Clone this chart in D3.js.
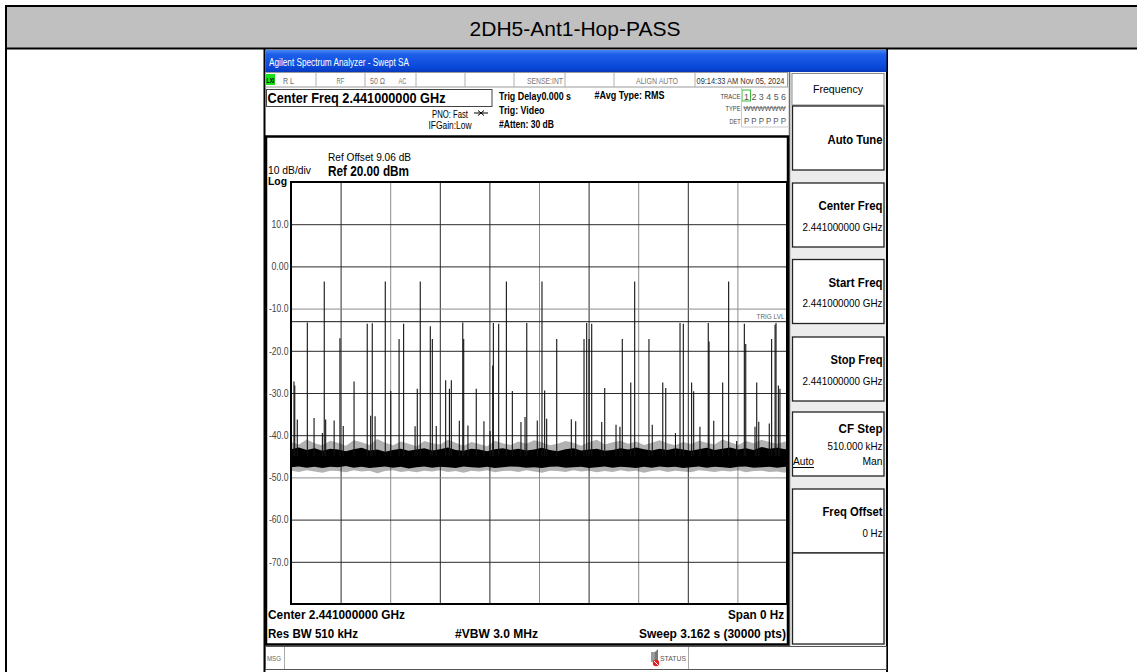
<!DOCTYPE html>
<html><head><meta charset="utf-8">
<script src="https://cdn.jsdelivr.net/npm/d3@7"></script>
<style>
html,body{margin:0;padding:0;background:#fff;}
svg{display:block;font-family:"Liberation Sans",Arial,Helvetica,sans-serif;}
</style></head><body>
<svg id="c" width="1137" height="672"></svg>
<script>
// ---------------- DATA ----------------
const pageTitle = "2DH5-Ant1-Hop-PASS";
const refLevel = 20;          // dBm (top of graticule)
const dbPerDiv = 10;
const yDivisions = 10;
const xDivisions = 10;
const sweepTimeMs = 3162;     // 3.162 s, zero span
const trigLevel = -13.1;      // dBm, TRIG LVL line
const yTickValues = [10, 0, -10, -20, -30, -40, -50, -60, -70];
const yTickLabels = ["10.0", "0.00", "-10.0", "-20.0", "-30.0", "-40.0", "-50.0", "-60.0", "-70.0"];

// hopping bursts seen in the zero-span trace: time (ms) and peak level (dBm)
const spikeTimes = [19, 24, 40, 104, 147, 200, 212, 221, 275, 312, 333, 402, 486, 508, 518, 536, 601, 636, 689, 718,
  791, 805, 824, 888, 901, 926, 986, 1010, 1022, 1073, 1095, 1101, 1128, 1181, 1230, 1269, 1286, 1290, 1324, 1373,
  1411, 1466, 1492, 1503, 1570, 1600, 1617, 1630, 1694, 1787, 1815, 1868, 1885, 1900, 1917, 1981, 2000, 2072, 2097, 2112,
  2166, 2191, 2282, 2303, 2370, 2389, 2451, 2480, 2501, 2554, 2567, 2607, 2660, 2665, 2695, 2752, 2790, 2841, 2890, 2899,
  2958, 2969, 2982, 3049, 3064, 3086, 3092, 3107, 3117];
const spikePeaks = [-27.3, -28.2, -36.3, -13.3, -35.9, -39.5, -3.6, -36.3, -36.5, -17.0, -37.8, -27.3, -13.6, -35.4, -13.5, -35.5, -3.6, -29.5, -17.2, -13.6,
  -37.9, -29.0, -3.6, -14.2, -17.2, -37.8, -27.0, -29.0, -27.0, -36.6, -13.3, -17.2, -37.7, -29.0, -36.7, -39.0, -23.5, -13.4, -13.6, -3.6,
  -29.5, -36.9, -35.7, -13.4, -36.5, -3.6, -29.4, -36.1, -17.2, -36.2, -36.7, -17.2, -13.4, -17.2, -13.6, -36.9, -28.8, -37.5, -38.0, -17.2,
  -27.5, -3.6, -17.2, -37.5, -27.5, -28.8, -39.5, -13.4, -13.6, -27.5, -29.6, -38.0, -13.4, -17.8, -36.6, -27.5, -3.6, -41.4, -13.6, -18.4,
  -38.0, -27.5, -36.8, -37.2, -17.2, -13.8, -13.4, -28.2, -29.0];

// noise floor envelope (dBm) sampled along the sweep (ms)
const noiseTimes = [0, 50, 100, 150, 200, 250, 300, 350, 400, 450, 500, 550, 600, 650, 700, 750,
  800, 850, 900, 950, 1000, 1050, 1100, 1150, 1200, 1250, 1300, 1350, 1400, 1450, 1500, 1550,
  1600, 1650, 1700, 1750, 1800, 1850, 1900, 1950, 2000, 2050, 2100, 2150, 2200, 2250, 2300, 2350,
  2400, 2450, 2500, 2550, 2600, 2650, 2700, 2750, 2800, 2850, 2900, 2950, 3000, 3050, 3100, 3150, 3162];
const noiseTopDense = [-43.3, -42.9, -43.5, -43.1, -43.7, -43.2, -43.4, -43.8, -43.3, -43.0, -43.6, -43.4, -43.9, -43.5, -43.2, -43.7,
  -43.4, -43.1, -43.6, -43.3, -42.9, -43.5, -43.7, -43.2, -43.4, -43.8, -43.3, -43.1, -43.5, -43.2, -43.6, -43.4,
  -43.0, -43.5, -43.8, -43.3, -43.1, -43.6, -43.4, -43.2, -43.7, -43.5, -43.1, -43.4, -42.9, -43.3, -43.6, -43.2,
  -43.5, -43.1, -43.4, -43.7, -43.3, -43.0, -43.5, -43.2, -42.9, -43.4, -43.1, -43.5, -42.8, -43.2, -43.0, -43.3, -43.1];
const noiseBottomDense = [-47.6, -47.4, -47.7, -47.5, -47.8, -47.5, -47.6, -47.3, -47.7, -47.5, -47.8, -47.6, -47.4, -47.7, -47.5, -47.9,
  -47.6, -47.4, -47.7, -47.5, -47.6, -47.8, -47.4, -47.6, -47.7, -47.5, -47.8, -47.6, -47.4, -47.5, -47.7, -47.6,
  -47.8, -47.5, -47.4, -47.7, -47.6, -47.5, -47.8, -47.6, -47.4, -47.7, -47.5, -47.6, -47.8, -47.5, -47.7, -47.4,
  -47.6, -47.5, -47.8, -47.6, -47.4, -47.7, -47.5, -47.6, -47.8, -47.5, -47.4, -47.7, -47.6, -47.5, -47.7, -47.5, -47.6];
const noiseTopOuter = [-41.6, -42.2, -41.0, -41.9, -42.4, -41.3, -41.8, -42.5, -41.2, -41.7, -42.3, -40.9, -41.8, -42.4, -41.5, -42.0,
  -42.6, -41.4, -41.9, -42.2, -41.1, -41.8, -42.5, -41.6, -42.1, -42.6, -41.3, -41.9, -42.3, -41.5, -42.0, -41.2,
  -41.7, -42.4, -42.0, -41.4, -41.8, -42.5, -41.6, -41.1, -42.2, -41.7, -41.3, -42.0, -41.5, -42.3, -41.8, -41.2,
  -41.9, -42.4, -41.6, -42.1, -41.3, -41.8, -42.2, -41.0, -41.7, -42.3, -41.4, -41.9, -41.1, -41.6, -42.0, -41.5, -41.8];
const noiseBottomOuter = [-48.4, -48.7, -48.3, -48.6, -48.9, -48.4, -48.5, -48.8, -48.3, -48.6, -48.4, -49.0, -48.5, -48.3, -48.7, -48.5,
  -48.8, -48.4, -48.6, -48.3, -48.7, -48.5, -48.9, -48.4, -48.6, -48.3, -48.8, -48.5, -48.4, -48.7, -48.3, -48.6,
  -48.9, -48.4, -48.5, -48.7, -48.3, -48.6, -48.4, -48.8, -48.5, -48.7, -48.3, -48.6, -48.4, -48.9, -48.5, -48.3,
  -48.7, -48.4, -48.6, -48.8, -48.3, -48.5, -48.7, -48.4, -48.6, -48.3, -48.8, -48.5, -48.4, -48.7, -48.6, -48.9, -48.5];

// soft keys of the right-hand menu
const menuTitle = "Frequency";
const softkeyLabels = ["Auto Tune", "Center Freq", "Start Freq", "Stop Freq", "CF Step", "Freq Offset"];
const softkeyValues = ["", "2.441000000 GHz", "2.441000000 GHz", "2.441000000 GHz", "510.000 kHz", "0 Hz"];

// ---------------- DRAWING ----------------
const svg = d3.select("#c");

function T(x, y, s, o = {}) {
  const t = svg.append("text").attr("x", x).attr("y", y).text(s)
    .attr("font-size", o.size || 10).attr("fill", o.fill || "#000");
  if (o.bold) t.attr("font-weight", "bold");
  if (o.anchor) t.attr("text-anchor", o.anchor);
  if (o.len) t.attr("textLength", o.len).attr("lengthAdjust", "spacingAndGlyphs");
  return t;
}
function R(x, y, w, h, fill, stroke, sw) {
  return svg.append("rect").attr("x", x).attr("y", y).attr("width", w).attr("height", h)
    .attr("fill", fill || "none").attr("stroke", stroke || "none").attr("stroke-width", sw || 1);
}
function L(x1, y1, x2, y2, stroke, sw) {
  return svg.append("line").attr("x1", x1).attr("y1", y1).attr("x2", x2).attr("y2", y2)
    .attr("stroke", stroke || "#000").attr("stroke-width", sw || 1);
}

// page table
R(7, 7, 1140, 41, "#c0c0c0");
R(6, 6, 1142, 700, "none", "#000", 2);
L(6, 48.5, 1148, 48.5, "#000", 2);
T(575, 35.5, pageTitle, { size: 21, anchor: "middle", fill: "#000" });
L(264.5, 49, 264.5, 672, "#000", 2);
L(887, 49, 887, 672, "#000", 2);

// analyzer window
const defs = svg.append("defs");
const g1 = defs.append("linearGradient").attr("id", "blue").attr("x1", 0).attr("y1", 0).attr("x2", 0).attr("y2", 1);
g1.append("stop").attr("offset", "0%").attr("stop-color", "#4a86f4");
g1.append("stop").attr("offset", "20%").attr("stop-color", "#1d5fea");
g1.append("stop").attr("offset", "80%").attr("stop-color", "#0a47d8");
g1.append("stop").attr("offset", "100%").attr("stop-color", "#0838b8");
R(265.5, 50, 621, 22, "url(#blue)");
T(269, 65.5, "Agilent Spectrum Analyzer - Swept SA", { size: 10.5, fill: "#fff", len: 140 });

// status row
R(265.5, 72.5, 522, 14.5, "#fff", "#9a9a9a", 1);
[316, 365, 416, 465, 514, 565, 614, 695].forEach(x => L(x, 73, x, 87, "#b0b0b0", 1));
R(266, 74, 9, 11, "#19e019");
T(266.5, 83, "LXI", { size: 7, len: 8, bold: true });
T(283, 84, "R L", { size: 9.5, fill: "#666", len: 11 });
T(336.5, 84, "RF", { size: 9.5, fill: "#777", len: 8 });
T(370, 84, "50 Ω", { size: 9.5, fill: "#777", len: 15 });
T(398.5, 84, "AC", { size: 9.5, fill: "#777", len: 8 });
T(563, 84, "SENSE:INT", { size: 9.5, fill: "#777", len: 36, anchor: "end" });
T(636, 84, "ALIGN AUTO", { size: 9.5, fill: "#777", len: 42 });
T(696.5, 84, "09:14:33 AM Nov 05, 2024", { size: 9.5, fill: "#333", len: 88 });

// second header row
R(266.5, 89.5, 225.5, 17, "#fff", "#444", 1);
T(267.5, 102.8, "Center Freq 2.441000000 GHz", { size: 14.5, bold: true, len: 178 });
T(432, 117.5, "PNO: Fast", { size: 10.5, len: 36 });
L(474, 113, 488, 113, "#000", 1);
svg.append("path").attr("d", "M478,110.5 L481,113 L478,115.5 M484,110.5 L481,113 L484,115.5").attr("fill", "none").attr("stroke", "#000");
T(428.5, 129, "IFGain:Low", { size: 10.5, len: 43 });
T(499, 99.5, "Trig Delay0.000 s", { size: 11, bold: true, len: 72 });
T(499, 114, "Trig: Video", { size: 11, bold: true, len: 45.5 });
T(499, 127.5, "#Atten: 30 dB", { size: 11, bold: true, len: 55 });
T(594.5, 99, "#Avg Type: RMS", { size: 11, bold: true, len: 70 });
T(740.5, 99, "TRACE", { size: 7.5, fill: "#444", len: 20, anchor: "end" });
T(740.5, 111, "TYPE", { size: 7.5, fill: "#444", len: 15, anchor: "end" });
T(740.5, 123.5, "DET", { size: 7.5, fill: "#444", len: 11, anchor: "end" });
R(742, 90, 8.5, 11, "#fff", "#3bb83b", 1);
T(744, 99.5, "1 2 3 4 5 6", { size: 9, fill: "#555", len: 42 });
T(743.5, 111, "WWWWWW", { size: 6.5, fill: "#555", len: 42 });
L(743.5, 107.8, 786, 107.8, "#666", 0.8);
T(744, 124, "P P P P P P", { size: 9, fill: "#555", len: 42 });
L(741.5, 88, 741.5, 127, "#c8c8c8", 1);
L(741.5, 127, 788, 127, "#c8c8c8", 1);

// right menu panel
R(789, 72.5, 97, 573, "#ececec");
L(789.5, 72, 789.5, 646, "#6a6a6a", 1.5);
R(792, 73.5, 92, 31.5, "#fff", "#8a8a8a", 1);
T(838, 93, menuTitle, { size: 10.5, anchor: "middle", len: 50 });
const keyTops = [106, 183, 259.5, 337, 412, 489];
const keyTitleW = [55, 64, 54, 52, 44, 60];
softkeyLabels.forEach((lab, i) => {
  const top = keyTops[i];
  R(792.5, top, 91.5, 64, "#fff", "#222", 1.3);
  const val = softkeyValues[i];
  if (val === "") {
    T(882.5, top + 38, lab, { size: 12.5, bold: true, anchor: "end", len: keyTitleW[i] });
  } else if (lab === "CF Step") {
    T(882.5, top + 21, lab, { size: 12.5, bold: true, anchor: "end", len: keyTitleW[i] });
    T(882.5, top + 37.5, val, { size: 10.5, anchor: "end", len: 55 });
    T(793, top + 53, "Auto", { size: 10.5, len: 21 });
    L(793, top + 55.5, 814, top + 55.5, "#000", 1);
    T(882.5, top + 53, "Man", { size: 10.5, anchor: "end", len: 20 });
  } else {
    T(882.5, top + 27, lab, { size: 12.5, bold: true, anchor: "end", len: keyTitleW[i] });
    T(882.5, top + 47.5, val, { size: 10.5, anchor: "end", len: val.length > 6 ? 80 : 20 });
  }
});
R(792.5, 553, 91.5, 91, "#fff", "#222", 1.3);

// plot frame
R(266, 136.5, 522, 508, "#fff", "#000", 2.5);

// scales
const x = d3.scaleLinear().domain([0, sweepTimeMs]).range([291, 787]);
const y = d3.scaleLinear().domain([refLevel - dbPerDiv * yDivisions, refLevel]).range([604, 182]);

// grid (through axes)
const xGridVals = d3.range(1, xDivisions).map(i => i * sweepTimeMs / xDivisions);
const yGridVals = d3.range(1, yDivisions).map(i => refLevel - i * dbPerDiv);
const lightX = new Set([2, 5, 7, 9]);
const lightY = new Set([-10, -50]);
const gx = svg.append("g").attr("transform", `translate(0,${y.range()[0]})`)
  .call(d3.axisBottom(x).tickValues(xGridVals).tickSize(-(y.range()[0] - y.range()[1])).tickFormat(""));
gx.select(".domain").remove();
gx.selectAll(".tick line").attr("stroke", (d, i) => lightX.has(i + 1) ? "#8c8c8c" : "#2a2a2a").attr("stroke-width", 1);
const gy = svg.append("g").attr("transform", `translate(${x.range()[0]},0)`)
  .call(d3.axisLeft(y).tickValues(yGridVals).tickSize(-(x.range()[1] - x.range()[0])).tickFormat(""));
gy.select(".domain").remove();
gy.selectAll(".tick line").attr("stroke", d => lightY.has(d) ? "#8c8c8c" : "#2a2a2a").attr("stroke-width", 1);

// y tick labels
const gl = svg.append("g").attr("transform", `translate(288.5,0)`)
  .call(d3.axisLeft(y).tickValues(yTickValues).tickSize(0).tickPadding(0)
    .tickFormat((d, i) => yTickLabels[i]));
gl.select(".domain").remove();
gl.selectAll("text").attr("font-size", 10).attr("fill", "#444")
  .attr("font-family", '"Liberation Sans",Arial,sans-serif')
  .attr("textLength", (d, i) => yTickLabels[i].length > 4 ? 19.5 : 17)
  .attr("lengthAdjust", "spacingAndGlyphs");

// clip
defs.append("clipPath").attr("id", "plot").append("rect")
  .attr("x", x.range()[0]).attr("y", y.range()[1])
  .attr("width", x.range()[1] - x.range()[0]).attr("height", y.range()[0] - y.range()[1]);
const plot = svg.append("g").attr("clip-path", "url(#plot)");

// trig level
plot.append("line").attr("x1", x.range()[0]).attr("x2", x.range()[1])
  .attr("y1", y(trigLevel)).attr("y2", y(trigLevel)).attr("stroke", "#1a1a1a").attr("stroke-width", 1);

// noise floor
const nIdx = noiseTimes.map((t, i) => i);
plot.append("path").datum(nIdx)
  .attr("d", d3.area().x(i => x(noiseTimes[i])).y0(i => y(noiseBottomOuter[i])).y1(i => y(noiseTopOuter[i])))
  .attr("fill", "#000").attr("fill-opacity", 0.3);
plot.append("path").datum(nIdx)
  .attr("d", d3.area().x(i => x(noiseTimes[i])).y0(i => y(noiseBottomDense[i])).y1(i => y(noiseTopDense[i])))
  .attr("fill", "#000");

// bursts
plot.selectAll("line.spike").data(spikeTimes).join("line").attr("class", "spike")
  .attr("x1", d => x(d)).attr("x2", d => x(d))
  .attr("y1", y(-45)).attr("y2", (d, i) => y(spikePeaks[i]))
  .attr("stroke", "#111").attr("stroke-width", 1.1);

// graticule border
R(x.range()[0], y.range()[1], x.range()[1] - x.range()[0], y.range()[0] - y.range()[1], "none", "#000", 2);

T(784.5, 318.5, "TRIG LVL", { size: 7.5, fill: "#666", anchor: "end", len: 28 });

// annotations
T(328, 161, "Ref Offset 9.06 dB", { size: 11.5, len: 83 });
T(268, 173.5, "10 dB/div", { size: 11, len: 43 });
T(328, 175.5, "Ref 20.00 dBm", { size: 14, bold: true, len: 81 });
T(268, 185, "Log", { size: 11, bold: true, len: 19 });

T(268, 619, "Center 2.441000000 GHz", { size: 13, bold: true, len: 137 });
T(784, 619, "Span 0 Hz", { size: 13, bold: true, len: 56, anchor: "end" });
T(268, 638, "Res BW 510 kHz", { size: 13, bold: true, len: 90 });
T(455, 638, "#VBW 3.0 MHz", { size: 13, bold: true, len: 83 });
T(786, 638, "Sweep  3.162 s (30000 pts)", { size: 13, bold: true, len: 147, anchor: "end" });

// message bar
R(265.5, 646.5, 621, 23, "#fff", "#555", 1);
L(284.5, 647, 284.5, 669, "#aaa", 1);
L(688.5, 647, 688.5, 669, "#aaa", 1);
T(267, 661, "MSG", { size: 8, fill: "#666", len: 14 });
R(651, 652, 4, 10, "#9a9a9a");
svg.append("path").attr("d", "M655,652 L658,649 L658,665 L655,662 Z").attr("fill", "#777");
svg.append("circle").attr("cx", 656).attr("cy", 663).attr("r", 3.2).attr("fill", "#e02020");
L(654, 661, 658, 665, "#fff", 1);
T(660, 661, "STATUS", { size: 8, fill: "#555", len: 26 });
</script>
</body></html>
